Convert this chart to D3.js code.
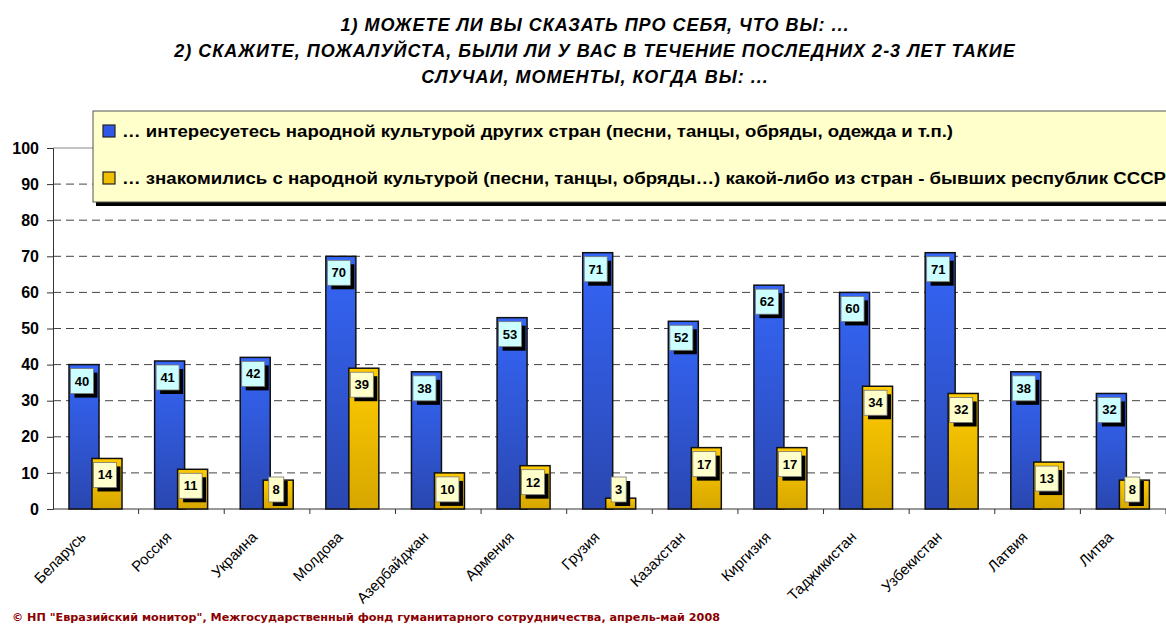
<!DOCTYPE html>
<meta charset="utf-8">
<style>
  body { margin: 0; background: #fff; }
  svg text { font-family: 'Liberation Sans', Arial, sans-serif; }
  .title { font-weight: bold; font-style: italic; font-size: 18px; letter-spacing: 1px; }
  .ytick { font-weight: bold; font-size: 16px; }
  .xlab { font-size: 15px; }
  .leg { font-weight: bold; font-size: 16px; }
  .val { font-weight: bold; font-size: 13px; }
  .foot { font-family: 'DejaVu Sans', Verdana, sans-serif; font-weight: bold; font-size: 10.5px; fill: #8b0000; }
</style>
<body>
<script src="https://d3js.org/d3.v7.min.js"></script>
<script>
// data
var countries = ["Беларусь", "Россия", "Украина", "Молдова", "Азербайджан", "Армения", "Грузия",
  "Казахстан", "Киргизия", "Таджикистан", "Узбекистан", "Латвия", "Литва"];
var interested = [40, 41, 42, 70, 38, 53, 71, 52, 62, 60, 71, 38, 32];
var acquainted = [14, 11, 8, 39, 10, 12, 3, 17, 17, 34, 32, 13, 8];
var yTicks = [0, 10, 20, 30, 40, 50, 60, 70, 80, 90, 100];
var titleLines = ["1) МОЖЕТЕ ЛИ ВЫ СКАЗАТЬ ПРО СЕБЯ, ЧТО ВЫ: ...",
  "2) СКАЖИТЕ, ПОЖАЛУЙСТА, БЫЛИ ЛИ У ВАС В ТЕЧЕНИЕ ПОСЛЕДНИХ 2-3 ЛЕТ ТАКИЕ",
  "СЛУЧАИ, МОМЕНТЫ, КОГДА ВЫ: ..."];
var legendNames = ["… интересуетесь народной культурой других стран (песни, танцы, обряды, одежда и т.п.)",
  "… знакомились с народной культурой (песни, танцы, обряды…) какой-либо из стран - бывших республик СССР;"];
var footer = "© НП \"Евразийский монитор\", Межгосударственный фонд гуманитарного сотрудничества, апрель-май 2008";

var W = 1166, H = 625;
var plotL = 53, plotR = 1166, plotT = 148, plotB = 509;

var svg = d3.select("body").append("svg").attr("width", W).attr("height", H);

var defs = svg.append("defs");
function grad(id, c1, c2) {
  var g = defs.append("linearGradient").attr("id", id).attr("x1", 0).attr("y1", 0).attr("x2", 0).attr("y2", 1);
  g.append("stop").attr("offset", "0%").attr("stop-color", c1);
  g.append("stop").attr("offset", "100%").attr("stop-color", c2);
}
grad("gBlue", "#3566f8", "#2a47b0");
grad("gYel", "#ffcc00", "#d6a600");

var x = d3.scaleBand().domain(countries).range([plotL, plotR]);
var y = d3.scaleLinear().domain([0, 100]).range([plotB, plotT]);

// title
svg.selectAll(".title").data(titleLines).join("text")
  .attr("class", "title")
  .attr("x", 595).attr("y", function (d, i) { return 31 + i * 26; })
  .attr("text-anchor", "middle")
  .text(function (d) { return d; });

// grid
svg.append("g").selectAll("line").data(yTicks.filter(function (d) { return d > 0; })).join("line")
  .attr("x1", plotL).attr("x2", plotR)
  .attr("y1", function (d) { return y(d); }).attr("y2", function (d) { return y(d); })
  .attr("stroke", function (d) { return d == 100 ? "#888" : "#444"; })
  .attr("stroke-width", 1)
  .attr("stroke-dasharray", function (d) { return d == 100 ? null : "8,5"; });

// y axis
var yAxis = svg.append("g").attr("transform", "translate(" + plotL + ",0)")
  .call(d3.axisLeft(y).tickValues(yTicks).tickSize(6).tickPadding(8));
yAxis.select(".domain").attr("stroke", "#333");
yAxis.selectAll(".tick line").attr("stroke", "#333");
yAxis.selectAll("text").attr("class", "ytick").attr("fill", "#000");

// x axis
var xg = svg.append("g").attr("transform", "translate(0," + plotB + ")");
xg.append("line").attr("x1", plotL).attr("x2", plotR).attr("stroke", "#333");
xg.selectAll(".xt").data(countries).join("line")
  .attr("x1", function (d) { return x(d) + x.bandwidth(); })
  .attr("x2", function (d) { return x(d) + x.bandwidth(); })
  .attr("y1", 0).attr("y2", 5).attr("stroke", "#333");

svg.append("g").selectAll("text").data(countries).join("text")
  .attr("class", "xlab")
  .attr("text-anchor", "end")
  .attr("transform", function (d) {
    return "translate(" + (x(d) + x.bandwidth() / 2 - 9) + "," + (plotB + 29) + ") rotate(-45)";
  })
  .text(function (d) { return d; });

// bars
var bw = 30;
var series = [
  { vals: interested, off: 16, fill: "url(#gBlue)", box: "#ccffff" },
  { vals: acquainted, off: 39, fill: "url(#gYel)", box: "#ffffcc" }
];
series.forEach(function (s) {
  svg.append("g").selectAll("rect").data(s.vals).join("rect")
    .attr("x", function (d, i) { return x(countries[i]) + s.off; })
    .attr("y", function (d) { return y(d); })
    .attr("width", bw)
    .attr("height", function (d) { return plotB - y(d); })
    .attr("fill", s.fill)
    .attr("stroke", "#111").attr("stroke-width", 1.5);
});

// value labels
series.forEach(function (s) {
  var g = svg.append("g").selectAll("g").data(s.vals).join("g")
    .attr("transform", function (d, i) {
      var cx = x(countries[i]) + s.off + bw / 2 - 2;
      var ty = Math.min(y(d) + 4, plotB - 32);
      return "translate(" + cx + "," + ty + ")";
    });
  g.each(function (d) {
    var bwid = String(d).length > 1 ? 23 : 15;
    var el = d3.select(this);
    el.append("rect").attr("x", -bwid / 2 + 4).attr("y", 4).attr("width", bwid).attr("height", 25).attr("fill", "#000");
    el.append("rect").attr("x", -bwid / 2).attr("y", 0).attr("width", bwid).attr("height", 25)
      .attr("fill", s.box).attr("stroke", "#777").attr("stroke-width", 0.8);
    el.append("text").attr("class", "val").attr("text-anchor", "middle").attr("y", 17).text(d);
  });
});

// legend
var lg = svg.append("g");
lg.append("rect").attr("x", 96).attr("y", 114).attr("width", 1100).attr("height", 92).attr("fill", "#000");
lg.append("rect").attr("x", 93).attr("y", 111).attr("width", 1100).attr("height", 91)
  .attr("fill", "#ffffcc").attr("stroke", "#555").attr("stroke-width", 1);
var legFills = ["#3058e8", "#f0c000"];
legendNames.forEach(function (n, i) {
  var ly = 131 + i * 47;
  lg.append("rect").attr("x", 103).attr("y", ly - 6).attr("width", 12).attr("height", 12)
    .attr("fill", legFills[i]).attr("stroke", "#222").attr("stroke-width", 1.2);
  lg.append("text").attr("class", "leg").attr("x", 122).attr("y", ly + 6)
    .attr("textLength", i == 0 ? 831 : 1050).attr("lengthAdjust", "spacingAndGlyphs")
    .text(n);
});

// footer
svg.append("text").attr("class", "foot").attr("x", 12).attr("y", 621)
  .attr("textLength", 708).attr("lengthAdjust", "spacingAndGlyphs")
  .text(footer);
</script>
</body>
